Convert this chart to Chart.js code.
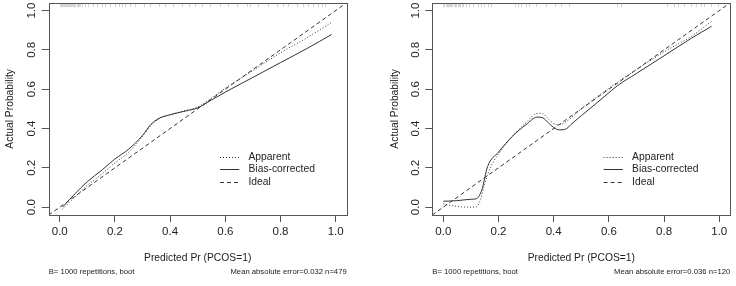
<!DOCTYPE html>
<html><head><meta charset="utf-8">
<script src="https://cdn.jsdelivr.net/npm/chart.js@4/dist/chart.umd.min.js"></script>
<style>
html,body{margin:0;padding:0;background:#fff;}
#wrap{position:relative;width:736px;height:286px;overflow:hidden;}
canvas{position:absolute;top:0;}
</style></head><body>
<div id="wrap">
<canvas id="c1" width="368" height="286" style="left:0"></canvas>
<canvas id="c2" width="368" height="286" style="left:368px"></canvas>
</div>
<script>
// ---------- data ----------
const tickValues = [0.0, 0.2, 0.4, 0.6, 0.8, 1.0];
const xTitle = 'Predicted Pr (PCOS=1)';
const yTitle = 'Actual Probability';
const legendLabels = ['Apparent', 'Bias-corrected', 'Ideal'];

// left panel
const leftAppX = [0.01, 0.05, 0.1, 0.15, 0.2, 0.25, 0.3, 0.33, 0.36, 0.4, 0.45, 0.5, 0.55, 0.6, 0.7, 0.8, 0.9, 0.985];
const leftAppY = [-0.01, 0.045, 0.11, 0.165, 0.225, 0.28, 0.36, 0.415, 0.45, 0.47, 0.49, 0.51, 0.555, 0.605, 0.695, 0.785, 0.865, 0.94];
const leftBiasX = [0.01, 0.05, 0.1, 0.15, 0.2, 0.25, 0.3, 0.33, 0.36, 0.4, 0.45, 0.5, 0.55, 0.6, 0.7, 0.8, 0.9, 0.985];
const leftBiasY = [0.0, 0.06, 0.13, 0.185, 0.245, 0.295, 0.365, 0.42, 0.452, 0.47, 0.487, 0.505, 0.545, 0.585, 0.66, 0.735, 0.81, 0.878];
const leftRug = [0.002, 0.006, 0.01, 0.013, 0.016, 0.02, 0.023, 0.027, 0.03, 0.034, 0.037, 0.041, 0.045, 0.049, 0.053, 0.057, 0.061, 0.066, 0.07, 0.075, 0.079,
  0.092, 0.104, 0.122, 0.134, 0.152, 0.165, 0.183, 0.2, 0.213, 0.225, 0.237, 0.255, 0.273, 0.304, 0.328, 0.358, 0.382, 0.412, 0.443, 0.467, 0.491,
  0.514, 0.544, 0.58, 0.611, 0.641, 0.677, 0.689, 0.72, 0.756, 0.786, 0.81, 0.829, 0.859, 0.883, 0.901, 0.919, 0.937, 0.949, 0.961];
const leftSubLeft = 'B= 1000 repetitions, boot';
const leftSubRight = 'Mean absolute error=0.032 n=479';

// right panel
const rightAppX = [0.0, 0.03, 0.06, 0.1, 0.12, 0.135, 0.15, 0.17, 0.2, 0.25, 0.3, 0.34, 0.36, 0.38, 0.4, 0.42, 0.45, 0.5, 0.6, 0.7, 0.8, 0.9, 0.972];
const rightAppY = [0.017, 0.008, 0.002, 0.0, 0.002, 0.04, 0.12, 0.2, 0.27, 0.36, 0.43, 0.477, 0.475, 0.45, 0.425, 0.42, 0.44, 0.5, 0.605, 0.7, 0.79, 0.87, 0.945];
const rightBiasX = [0.0, 0.05, 0.1, 0.12, 0.14, 0.16, 0.2, 0.25, 0.3, 0.34, 0.36, 0.38, 0.4, 0.42, 0.44, 0.47, 0.5, 0.55, 0.6, 0.63, 0.7, 0.8, 0.9, 0.972];
const rightBiasY = [0.03, 0.033, 0.04, 0.043, 0.09, 0.205, 0.28, 0.36, 0.42, 0.458, 0.455, 0.43, 0.405, 0.393, 0.395, 0.43, 0.465, 0.523, 0.582, 0.617, 0.68, 0.77, 0.86, 0.92];
const rightRug = [0.0, 0.004, 0.008, 0.012, 0.016, 0.02, 0.025, 0.029, 0.033, 0.038, 0.042, 0.047, 0.052, 0.057, 0.062, 0.066, 0.07,
  0.082, 0.094, 0.106, 0.124, 0.137, 0.149, 0.161, 0.173,
  0.258, 0.27, 0.282, 0.3, 0.312, 0.336, 0.372, 0.403, 0.427, 0.457,
  0.631, 0.643, 0.812, 0.837, 0.849, 0.873, 0.897, 0.915, 0.933, 0.945, 0.97, 0.994];
const rightSubLeft = 'B= 1000 repetitions, boot';
const rightSubRight = 'Mean absolute error=0.036 n=120';

const idealX = [-0.04, 1.04];
const idealY = [-0.04, 1.04];

// ---------- chart ----------
const FONT = '"Liberation Sans", Arial, Helvetica, sans-serif';
Chart.defaults.font.family = FONT;
const INK = '#222';
const LINE = '#333';
const FRAME = '#555';

const pts = (xs, ys) => xs.map((x, i) => ({x: x, y: ys[i]}));

const framePlugin = {
  id: 'frame',
  afterDatasetsDraw(chart) {
    const a = chart.chartArea, ctx = chart.ctx;
    ctx.save();
    ctx.strokeStyle = FRAME; ctx.lineWidth = 1;
    ctx.strokeRect(Math.round(a.left) + 0.5, Math.round(a.top) + 0.5, Math.round(a.right - a.left), Math.round(a.bottom - a.top));
    ctx.restore();
  }
};

const rugPlugin = {
  id: 'rug',
  afterDatasetsDraw(chart, args, opts) {
    const a = chart.chartArea, ctx = chart.ctx, xs = chart.scales.x;
    ctx.save();
    ctx.strokeStyle = 'rgba(0,0,0,0.17)'; ctx.lineWidth = 1;
    (opts.values || []).forEach(v => {
      const px = Math.round(xs.getPixelForValue(v)) + 0.5;
      ctx.beginPath(); ctx.moveTo(px, a.top + 1); ctx.lineTo(px, a.top + 4.5); ctx.stroke();
    });
    ctx.restore();
  }
};

const legendPlugin = {
  id: 'rlegend',
  afterDraw(chart) {
    const a = chart.chartArea, ctx = chart.ctx;
    const rows = [154, 166.6, 179];
    ctx.save();
    ctx.font = '10.3px ' + FONT;
    ctx.textBaseline = 'middle'; ctx.textAlign = 'left';
    chart.data.datasets.forEach((ds, i) => {
      const y = a.top + rows[i];
      const yl = Math.round(y) + 0.5;
      ctx.strokeStyle = LINE; ctx.lineWidth = 1;
      ctx.setLineDash(ds.borderDash || []);
      ctx.beginPath(); ctx.moveTo(a.left + 171.3, yl); ctx.lineTo(a.left + 190.6, yl); ctx.stroke();
      ctx.setLineDash([]);
      ctx.fillStyle = INK;
      ctx.fillText(ds.label, a.left + 199.8, y);
    });
    ctx.restore();
  }
};

const subPlugin = {
  id: 'subs',
  afterDraw(chart, args, opts) {
    const a = chart.chartArea, ctx = chart.ctx;
    ctx.save();
    ctx.font = '7.7px ' + FONT; ctx.fillStyle = INK; ctx.textBaseline = 'middle';
    ctx.textAlign = 'left'; ctx.fillText(opts.left, a.left, 272);
    ctx.textAlign = 'right'; ctx.fillText(opts.right, a.right, 272);
    ctx.restore();
  }
};

function makePanel(id, appX, appY, biasX, biasY, rug, subL, subR, yWidth, padRight, yTitlePad) {
  const setTicks = s => { s.ticks = tickValues.map(v => ({value: v})); };
  const axisCommon = {
    type: 'linear', min: -0.04, max: 1.04,
    afterBuildTicks: setTicks,
    grid: {display: true, drawOnChartArea: false, drawTicks: true, tickLength: 7, color: FRAME, tickColor: FRAME},
    border: {display: false}
  };
  return new Chart(document.getElementById(id), {
    type: 'line',
    data: {
      datasets: [
        {label: legendLabels[0], data: pts(appX, appY), borderColor: LINE, borderWidth: 1, borderDash: [1, 2], pointRadius: 0, cubicInterpolationMode: 'monotone', fill: false},
        {label: legendLabels[1], data: pts(biasX, biasY), borderColor: LINE, borderWidth: 1, pointRadius: 0, cubicInterpolationMode: 'monotone', fill: false},
        {label: legendLabels[2], data: pts(idealX, idealY), borderColor: LINE, borderWidth: 1, borderDash: [4, 3], pointRadius: 0, fill: false}
      ]
    },
    options: {
      responsive: false, animation: false, devicePixelRatio: 1,
      layout: {padding: {top: 2.7, right: padRight, left: 0, bottom: 0}},
      plugins: {
        legend: {display: false}, tooltip: {enabled: false},
        rug: {values: rug},
        subs: {left: subL, right: subR}
      },
      scales: {
        x: Object.assign({}, axisCommon, {
          position: 'bottom',
          afterFit: s => { s.height = 71; s.paddingLeft = 0; s.paddingRight = 0; },
          ticks: {font: {size: 11.5}, color: INK, padding: 3, minRotation: 0, maxRotation: 0, callback: v => Number(v).toFixed(1)},
          title: {display: true, text: xTitle, font: {size: 10.3}, color: INK, padding: {top: 0, bottom: 21.8}}
        }),
        y: Object.assign({}, axisCommon, {
          position: 'left',
          afterFit: s => { s.width = yWidth; s.paddingTop = 0; s.paddingBottom = 0; },
          ticks: {font: {size: 11.5}, color: INK, padding: 1.6, minRotation: 90, maxRotation: 90, crossAlign: 'center', callback: v => Number(v).toFixed(1)},
          title: {display: true, text: yTitle, font: {size: 10.3}, color: INK, padding: {top: yTitlePad, bottom: 0}}
        })
      }
    },
    plugins: [rugPlugin, framePlugin, legendPlugin, subPlugin]
  });
}

makePanel('c1', leftAppX, leftAppY, leftBiasX, leftBiasY, leftRug, leftSubLeft, leftSubRight, 48.7, 21.3, 3.8);
makePanel('c2', rightAppX, rightAppY, rightBiasX, rightBiasY, rightRug, rightSubLeft, rightSubRight, 64.3, 5.7, 20.5);
</script>
</body></html>
